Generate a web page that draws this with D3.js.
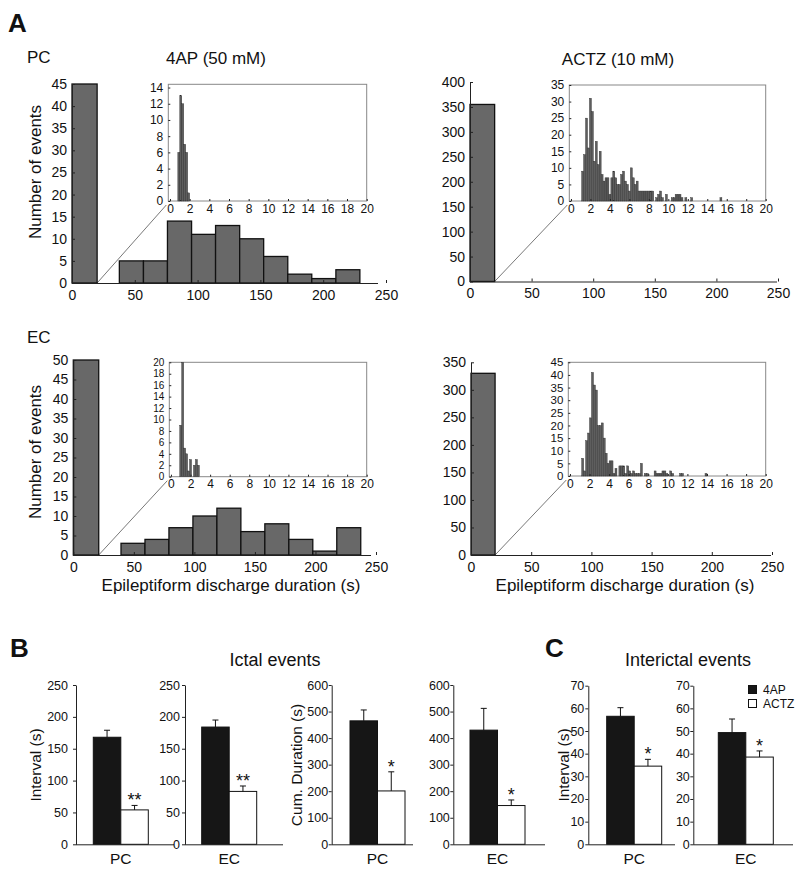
<!DOCTYPE html>
<html><head><meta charset="utf-8">
<script src="https://cdn.jsdelivr.net/npm/d3@7"></script>
<style>
body{margin:0;background:#fff;}
svg text{font-family:"Liberation Sans",Arial,Helvetica,sans-serif;fill:#111;}
</style></head><body>
<script>
// ---------------- DATA ----------------
const mainXTicks = [0, 50, 100, 150, 200, 250];
const insetXTicks = [0, 2, 4, 6, 8, 10, 12, 14, 16, 18, 20];
const insetBinWidth = 0.2;

// PC, 4AP
const pc4apStarts = [0, 37.7, 56.9, 76.0, 95.2, 114.3, 133.5, 152.6, 171.8, 190.9, 210.1];
const pc4apEnds   = [20, 56.9, 76.0, 95.2, 114.3, 133.5, 152.6, 171.8, 190.9, 210.1, 229.2];
const pc4apCounts = [45, 5, 5, 14, 11, 13, 10, 6, 2, 1, 3];
const pc4apYTicks = [0, 5, 10, 15, 20, 25, 30, 35, 40, 45];
const pc4apInsetStart = 0.8;
const pc4apInsetCounts = [6, 13, 12, 7, 6, 1];
const pc4apInsetYTicks = [0, 2, 4, 6, 8, 10, 12, 14];

// PC, ACTZ
const pcActzStarts = [0];
const pcActzEnds = [20];
const pcActzCounts = [355];
const pcActzYTicks = [0, 50, 100, 150, 200, 250, 300, 350, 400];
const pcActzInsetStart = 1.1;
const pcActzInsetCounts = [
  9, 14, 25, 16, 31, 27, 12, 18, 11, 15,
  8, 6, 7, 7, 2, 7, 9, 7, 5, 5,
  8, 9, 6, 5, 3, 10, 7, 5, 6, 3,
  3, 3, 3, 3, 3, 3, 3, 0, 1, 2,
  3, 1, 0, 2, 0, 0, 1, 1, 2, 2,
  2, 1, 0, 1, 0, 0, 1, 0, 0, 0,
  0, 0, 0, 0, 0, 0, 0, 0, 0, 0,
  0, 1];
const pcActzInsetYTicks = [0, 5, 10, 15, 20, 25, 30, 35];

// EC, 4AP
const ec4apStarts = [0, 39.4, 59.2, 79.0, 98.8, 118.6, 138.4, 158.2, 178.0, 197.8, 217.6];
const ec4apEnds   = [21, 59.2, 79.0, 98.8, 118.6, 138.4, 158.2, 178.0, 197.8, 217.6, 237.4];
const ec4apCounts = [50, 3, 4, 7, 10, 12, 6, 8, 4, 1, 7];
const ec4apYTicks = [0, 5, 10, 15, 20, 25, 30, 35, 40, 45, 50];
const ec4apInsetStart = 0.9;
const ec4apInsetCounts = [9, 20, 5, 4, 1, 3, 0, 2, 3, 2];
const ec4apInsetYTicks = [0, 2, 4, 6, 8, 10, 12, 14, 16, 18, 20];

// EC, ACTZ
const ecActzStarts = [0];
const ecActzEnds = [20];
const ecActzCounts = [330];
const ecActzYTicks = [0, 50, 100, 150, 200, 250, 300, 350];
const ecActzInsetStart = 1.2;
const ecActzInsetCounts = [
  7, 2, 14, 17, 23, 41, 36, 34, 20, 20,
  21, 15, 9, 5, 6, 6, 1, 3, 0, 4,
  4, 4, 1, 4, 2, 1, 2, 1, 1, 1,
  5, 0, 1, 1, 0, 0, 0, 2, 1, 1,
  1, 2, 2, 1, 0, 2, 1, 0, 0, 0,
  1, 1, 0, 0, 0, 0, 0, 0, 0, 0,
  0, 0, 0, 1];
const ecActzInsetYTicks = [0, 5, 10, 15, 20, 25, 30, 35, 40, 45];

// Panels B and C
const groups = ["4AP", "ACTZ"];
const regions = ["PC", "EC"];
const ictalIntervalMeans = [[168, 54], [184, 83]];
const ictalIntervalSEM   = [[11, 7], [11, 8.5]];
const ictalDurationMeans = [[465, 201], [430, 146]];
const ictalDurationSEM   = [[41, 72], [82, 21]];
const interictalIntervalMeans = [[56.5, 34.5], [49.3, 38.5]];
const interictalIntervalSEM   = [[3.8, 3.0], [6.0, 2.7]];
const ictalIntervalStars = ["**", "**"];
const ictalDurationStars = ["*", "*"];
const interictalStars = ["*", "*"];
const intervalTicks = [0, 50, 100, 150, 200, 250];
const durationTicks = [0, 100, 200, 300, 400, 500, 600];
const interictalTicks = [0, 10, 20, 30, 40, 50, 60, 70];

// ---------------- DRAWING ----------------
const svg = d3.select("body").append("svg").attr("width", 800).attr("height", 872);
const AX = "#222";

function styleAxis(sel, fs) {
  sel.attr("font-size", null).attr("font-family", null);
  sel.selectAll("text").attr("font-size", fs);
  sel.selectAll("line").attr("stroke", AX);
  sel.select(".domain").attr("stroke", AX);
}

function drawHist(L, D) {
  const g = svg.append("g");
  const x = d3.scaleLinear().domain([0, 250]).range([L.x0, L.x250]);
  const y = d3.scaleLinear().domain([0, D.ymax]).range([L.yb, L.yt]);
  const I = L.ins;
  g.append("line")
    .attr("x1", x(D.ends[0])).attr("y1", L.yb)
    .attr("x2", I.left - 2).attr("y2", I.bottom + 4)
    .attr("stroke", "#555").attr("stroke-width", 0.8);
  g.selectAll("rect.hb").data(D.counts).join("rect").attr("class", "hb")
    .attr("x", (c, i) => x(D.starts[i]))
    .attr("width", (c, i) => x(D.ends[i]) - x(D.starts[i]))
    .attr("y", c => y(c))
    .attr("height", c => y(0) - y(c))
    .attr("fill", "#686868").attr("stroke", "#111").attr("stroke-width", 1.3);
  const xa = g.append("g").attr("transform", `translate(0,${L.yb})`)
    .call(d3.axisBottom(x).tickValues(mainXTicks).tickSizeInner(-3).tickSizeOuter(0).tickPadding(7));
  styleAxis(xa, 14);
  xa.select(".domain").attr("d", `M${L.x0},0.5H${L.xEnd}`);
  const ya = g.append("g").attr("transform", `translate(${L.x0},0)`)
    .call(d3.axisLeft(y).tickValues(D.yTicks).tickSizeInner(-3).tickSizeOuter(0).tickPadding(5));
  styleAxis(ya, 14);

  const xi = d3.scaleLinear().domain([-0.17, 20]).range([I.left, I.right]);
  const yi = d3.scaleLinear().domain([0, D.insYmax]).range([I.bottom, I.top]);
  g.append("rect").attr("x", I.left).attr("y", I.top)
    .attr("width", I.right - I.left).attr("height", I.bottom - I.top)
    .attr("fill", "#fff").attr("stroke", "#888").attr("stroke-width", 1);
  g.selectAll("rect.ib").data(D.insCounts).join("rect").attr("class", "ib")
    .attr("x", (c, i) => xi(D.insStart + i * insetBinWidth))
    .attr("width", xi(insetBinWidth) - xi(0))
    .attr("y", c => yi(Math.min(c, D.insYmax)))
    .attr("height", c => yi(0) - yi(Math.min(c, D.insYmax)))
    .attr("fill", "#5e5e5e").attr("stroke", "#2a2a2a").attr("stroke-width", 0.4);
  const xia = g.append("g").attr("transform", `translate(0,${I.bottom})`)
    .call(d3.axisBottom(xi).tickValues(insetXTicks).tickSizeInner(-2).tickSizeOuter(0).tickPadding(3));
  styleAxis(xia, 12);
  xia.select(".domain").remove();
  const yia = g.append("g").attr("transform", `translate(${I.left},0)`)
    .call(d3.axisLeft(yi).tickValues(D.insYTicks).tickSizeInner(-2).tickSizeOuter(0).tickPadding(5));
  styleAxis(yia, L.insYFont);
  yia.select(".domain").remove();
}

drawHist(
  {x0: 72, x250: 386, xEnd: 378, yb: 283, yt: 84, insYFont: 12,
   ins: {left: 168.3, right: 366.7, top: 84.3, bottom: 201}},
  {starts: pc4apStarts, ends: pc4apEnds, counts: pc4apCounts, ymax: 45, yTicks: pc4apYTicks,
   insStart: pc4apInsetStart, insCounts: pc4apInsetCounts, insYmax: 14.4, insYTicks: pc4apInsetYTicks});
drawHist(
  {x0: 470, x250: 778, xEnd: 777, yb: 281.5, yt: 82, insYFont: 12,
   ins: {left: 569.3, right: 765.7, top: 85, bottom: 201}},
  {starts: pcActzStarts, ends: pcActzEnds, counts: pcActzCounts, ymax: 400, yTicks: pcActzYTicks,
   insStart: pcActzInsetStart, insCounts: pcActzInsetCounts, insYmax: 35, insYTicks: pcActzInsetYTicks});
drawHist(
  {x0: 73.3, x250: 376, xEnd: 371, yb: 555, yt: 360, insYFont: 10,
   ins: {left: 169.3, right: 366.7, top: 362.3, bottom: 476.7}},
  {starts: ec4apStarts, ends: ec4apEnds, counts: ec4apCounts, ymax: 50, yTicks: ec4apYTicks,
   insStart: ec4apInsetStart, insCounts: ec4apInsetCounts, insYmax: 20, insYTicks: ec4apInsetYTicks});
drawHist(
  {x0: 471, x250: 772, xEnd: 771, yb: 555, yt: 362.3, insYFont: 11.5,
   ins: {left: 568.3, right: 765.7, top: 362.3, bottom: 476}},
  {starts: ecActzStarts, ends: ecActzEnds, counts: ecActzCounts, ymax: 350, yTicks: ecActzYTicks,
   insStart: ecActzInsetStart, insCounts: ecActzInsetCounts, insYmax: 45, insYTicks: ecActzInsetYTicks});

svg.append("text").attr("x", 8).attr("y", 32).attr("font-size", 26).attr("font-weight", "bold").text("A");
svg.append("text").attr("x", 27).attr("y", 63).attr("font-size", 17).text("PC");
svg.append("text").attr("x", 216).attr("y", 64).attr("font-size", 17).attr("text-anchor", "middle").text("4AP (50 mM)");
svg.append("text").attr("x", 618).attr("y", 65).attr("font-size", 17).attr("text-anchor", "middle").text("ACTZ (10 mM)");
svg.append("text").attr("x", 27).attr("y", 343).attr("font-size", 17).text("EC");
[[35, 172], [35, 452]].forEach(p => {
  svg.append("text").attr("transform", `translate(${p[0]},${p[1]}) rotate(-90)`)
    .attr("text-anchor", "middle").attr("dominant-baseline", "central").attr("font-size", 17).text("Number of events");
});
svg.append("text").attr("x", 231).attr("y", 591).attr("font-size", 17).attr("text-anchor", "middle").text("Epileptiform discharge duration (s)");
svg.append("text").attr("x", 625).attr("y", 591).attr("font-size", 17).attr("text-anchor", "middle").text("Epileptiform discharge duration (s)");

// ---------------- Panels B & C ----------------
const Y0 = 844.3;
function drawBars(C) {
  const g = svg.append("g");
  const y = d3.scaleLinear().domain([0, C.ymax]).range([Y0, C.yt]);
  const x = d3.scaleBand().domain(groups).range([C.axisX + C.pad, C.axisX + C.pad + 55]).padding(0);
  const bw = x.bandwidth();
  g.selectAll("rect").data(C.means).join("rect")
    .attr("x", (m, i) => x(groups[i])).attr("width", bw)
    .attr("y", m => y(m)).attr("height", m => Y0 - y(m))
    .attr("fill", (m, i) => i === 0 ? "#161616" : "#fff")
    .attr("stroke", "#111").attr("stroke-width", 1);
  C.means.forEach((m, i) => {
    const cx = x(groups[i]) + bw / 2;
    const top = y(m + C.sem[i]);
    g.append("line").attr("x1", cx).attr("x2", cx).attr("y1", y(m)).attr("y2", top).attr("stroke", "#111").attr("stroke-width", 1);
    g.append("line").attr("x1", cx - 3).attr("x2", cx + 3).attr("y1", top).attr("y2", top).attr("stroke", "#111").attr("stroke-width", 1);
  });
  const sx = x(groups[1]) + bw / 2;
  g.append("text").attr("x", sx).attr("y", y(C.means[1] + C.sem[1]) + 1)
    .attr("text-anchor", "middle").attr("font-size", 18).text(C.star);
  const ya = g.append("g").attr("transform", `translate(${C.axisX},0)`)
    .call(d3.axisLeft(y).tickValues(C.ticks).tickSizeInner(3).tickSizeOuter(0).tickPadding(C.tp));
  styleAxis(ya, 12.5);
  g.append("line").attr("x1", C.axisX).attr("x2", C.axisEnd).attr("y1", Y0 + 0.5).attr("y2", Y0 + 0.5).attr("stroke", AX);
  g.append("text").attr("x", x(groups[1])).attr("y", 864).attr("text-anchor", "middle").attr("font-size", 15.5).text(C.label);
  if (C.ylabel) {
    g.append("text").attr("transform", `translate(${C.ylx},${765}) rotate(-90)`)
      .attr("text-anchor", "middle").attr("dominant-baseline", "central").attr("font-size", 15.5).text(C.ylabel);
  }
}

drawBars({axisX: 76, pad: 17.3, axisEnd: 174, ymax: 250, yt: 685, ticks: intervalTicks, tp: 5,
  means: ictalIntervalMeans[0], sem: ictalIntervalSEM[0], star: ictalIntervalStars[0], label: regions[0],
  ylabel: "Interval (s)", ylx: 35.5});
drawBars({axisX: 185, pad: 16.7, axisEnd: 283, ymax: 250, yt: 685, ticks: intervalTicks, tp: 2,
  means: ictalIntervalMeans[1], sem: ictalIntervalSEM[1], star: ictalIntervalStars[1], label: regions[1]});
drawBars({axisX: 331.7, pad: 18.3, axisEnd: 413, ymax: 600, yt: 685, ticks: durationTicks, tp: 0.5,
  means: ictalDurationMeans[0], sem: ictalDurationSEM[0], star: ictalDurationStars[0], label: regions[0],
  ylabel: "Cum. Duration (s)", ylx: 296});
drawBars({axisX: 453.3, pad: 16.7, axisEnd: 545, ymax: 600, yt: 685, ticks: durationTicks, tp: 0.5,
  means: ictalDurationMeans[1], sem: ictalDurationSEM[1], star: ictalDurationStars[1], label: regions[1]});
drawBars({axisX: 588.3, pad: 18.4, axisEnd: 675, ymax: 70, yt: 685.7, ticks: interictalTicks, tp: 1,
  means: interictalIntervalMeans[0], sem: interictalIntervalSEM[0], star: interictalStars[0], label: regions[0],
  ylabel: "Interval (s)", ylx: 563});
drawBars({axisX: 693.3, pad: 25, axisEnd: 793, ymax: 70, yt: 685.7, ticks: interictalTicks, tp: 0.5,
  means: interictalIntervalMeans[1], sem: interictalIntervalSEM[1], star: interictalStars[1], label: regions[1]});

svg.append("text").attr("x", 10).attr("y", 657).attr("font-size", 26).attr("font-weight", "bold").text("B");
svg.append("text").attr("x", 545).attr("y", 657).attr("font-size", 26).attr("font-weight", "bold").text("C");
svg.append("text").attr("x", 275).attr("y", 666).attr("font-size", 18).attr("text-anchor", "middle").text("Ictal events");
svg.append("text").attr("x", 688).attr("y", 666).attr("font-size", 18).attr("text-anchor", "middle").text("Interictal events");

const leg = svg.append("g");
groups.forEach((gname, i) => {
  leg.append("rect").attr("x", 748.5).attr("y", 685.5 + i * 14).attr("width", 8).attr("height", 8)
    .attr("fill", i === 0 ? "#161616" : "#fff").attr("stroke", "#111").attr("stroke-width", 1);
  leg.append("text").attr("x", 763).attr("y", 689.5 + i * 14).attr("dominant-baseline", "central")
    .attr("font-size", 12).text(gname);
});
</script>
</body></html>
